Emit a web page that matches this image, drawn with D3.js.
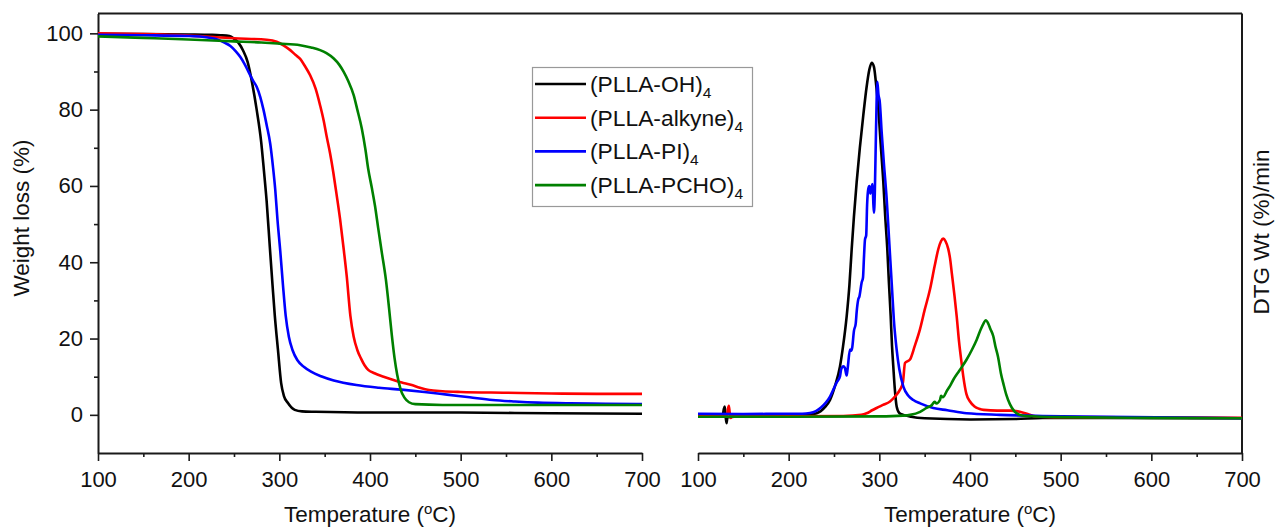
<!DOCTYPE html>
<html><head><meta charset="utf-8">
<script src="https://cdn.jsdelivr.net/npm/d3@7"></script>
<style>
html,body{margin:0;padding:0;background:#fff;}
svg text{font-family:"Liberation Sans",Arial,sans-serif;fill:#111;}
</style></head><body>
<svg id="chart" width="1278" height="529"></svg>
<script>
// ---------- data ----------
const seriesNames = ["(PLLA-OH)", "(PLLA-alkyne)", "(PLLA-PI)", "(PLLA-PCHO)"];
const seriesSub = ["4", "4", "4", "4"];
const seriesColors = ["#000000", "#ff0000", "#0000ff", "#008000"];
const xTicks = [100, 200, 300, 400, 500, 600, 700];
const xMinorTicks = [150, 250, 350, 450, 550, 650];
const yTicks = [0, 20, 40, 60, 80, 100];
const yMinorTicks = [10, 30, 50, 70, 90];
const xTitle = "Temperature (";
const yTitleLeft = "Weight loss (%)";
const yTitleRight = "DTG Wt (%)/min";

// TGA: [temperature °C, weight %]
const tgaOH = [[100,99.9],[150,99.8],[200,99.7],[225,99.6],[235,99.5],[245,99.3],[250,98.6],[255,97.5],[260,95.5],[265,92.5],[270,87],[275,80],[280,71.5],[283,64],[286,56],[289.5,44],[292.5,34],[295,26],[298.5,17],[302,8.3],[305,5],[309.5,3.1],[317,1.3],[325,0.9],[340,0.8],[400,0.6],[500,0.6],[600,0.4],[700,0.3]];
const tgaAlkyne = [[100,100],[150,99.8],[200,99.4],[250,98.7],[286,98.3],[297,97.8],[305,96.8],[312,95.6],[318,94.3],[323,93.3],[328,91.5],[334,89],[340,85.5],[345,81.1],[349,77],[352,73.2],[356,68.5],[359.5,63.6],[363,58],[367,51.3],[371,43.4],[374.3,36.4],[378.4,25.9],[382,20.5],[386,17],[390,14.8],[394,13],[398,11.8],[405,10.9],[415,10],[425,9.2],[435,8.5],[445,7.9],[455,7.1],[465,6.5],[480,6.2],[500,6.0],[550,5.8],[600,5.6],[650,5.5],[700,5.5]];
const tgaPI = [[100,99.6],[150,99.5],[200,99.3],[215,99.1],[230,98.5],[240,97.5],[246,96.7],[252,95.3],[257,93.8],[262,91.8],[266,89.9],[271,87.6],[275,86],[279,83.3],[282.5,80],[286,76],[290,71],[293,65],[295.5,59],[298,51],[301,43],[304,34],[307,26],[310.5,20.5],[314.5,17],[320,14.3],[327,12.6],[335,11.3],[346,10.1],[360,9],[385,7.8],[410,7.1],[435,6.6],[460,6],[485,5.3],[510,4.6],[535,3.9],[560,3.5],[585,3.2],[620,3.0],[660,2.9],[700,2.8]];
const tgaPCHO = [[100,99.2],[150,98.8],[200,98.4],[250,97.9],[280,97.6],[300,97.3],[323,96.9],[335,96.3],[345,95.6],[352,94.8],[360,93.4],[366,91.8],[371,89.9],[376,87.5],[382,83.8],[386,80],[391,75],[395,69.5],[398,64.5],[402,59.5],[405.5,54.8],[409,49],[413,42.6],[417.5,35.5],[421,28],[424,21],[427,15],[430,10.5],[434,6.5],[438,4.5],[443,3.3],[450,2.8],[480,2.6],[700,2.6]];

// DTG: [temperature °C, derivative (arbitrary units, no axis ticks in source)]
const dtgOH = [[100,-0.4],[127,-0.4],[128.5,1.5],[129.5,2.2],[130.5,-0.5],[131.5,-2.2],[132.5,-0.6],[150,-0.4],[200,-0.3],[220,0],[231,0.4],[240,2],[245.6,3.9],[251,7.5],[256.6,12.7],[260,18],[264,25.9],[267,34],[269.5,43.4],[272,52],[275,61],[278.5,70],[282.3,78.5],[286,86],[289,90.5],[291.6,92.3],[294,91.3],[296.5,86.5],[298.9,80.3],[301.5,71],[304.4,61],[306.5,52],[308.8,43.4],[310.5,35],[312.5,25.9],[314,18],[315.4,12.7],[317,7],[319.1,2.2],[322,0.5],[326.5,0],[335,-0.5],[350,-0.9],[400,-1.2],[450,-1.1],[480,-0.8],[550,-0.8],[700,-0.9]];
const dtgAlkyne = [[100,-0.4],[132,-0.4],[133,1.5],[134,2.4],[135,0.5],[136,-0.8],[138,-0.4],[200,-0.4],[260,-0.3],[280,0],[286,0.4],[292,1.2],[297,1.8],[304,2.6],[311.8,3.5],[318,5],[322.8,6.6],[326,8.5],[328.3,13.6],[333.8,14.5],[339,18],[344.8,22.4],[350,27.5],[355.9,32.9],[361,39],[365,43.4],[368,45.5],[370.5,46.2],[373,45.5],[376,43.5],[378,41],[380,37],[383,31],[385.3,25.9],[388,19],[390.5,14],[392.6,10.1],[396,5.5],[400,3.5],[405,2.2],[410,1.6],[415,1.3],[430,1.1],[445,1.1],[455,0.8],[465,0.1],[472,-0.4],[500,-0.6],[700,-0.8]];
const dtgPI = [[100,0.3],[150,0.2],[200,0.3],[215,0.3],[223.5,0.5],[230,1],[236,2],[241,3.2],[245.6,4.8],[250,7],[253,8.5],[256.6,10.1],[258,12],[260.3,12.7],[262,12.3],[263.9,10.3],[265,12],[267.6,17.1],[269,16.8],[270,17.5],[272,22],[274,24],[275,27],[276.8,30.3],[278,31],[280.5,34.7],[282,36],[283,41],[284.2,46],[285.5,47],[286.5,55],[287.8,59.2],[289,60],[290,58],[291.5,59.7],[292.5,60.5],[293.5,55],[294.1,53],[295,58],[296.3,74],[297.8,87.3],[299,84],[300.5,82],[302.6,74],[305,66],[308.1,56.6],[311,45],[313.6,34.7],[316,25],[319.1,17.1],[322,12],[326.5,7.4],[332,5],[337.5,3.9],[345,3],[359.5,1.8],[375,1.2],[396.3,0.4],[433,0],[480,-0.3],[550,-0.5],[700,-0.9]];
const dtgPCHO = [[100,-0.5],[200,-0.5],[300,-0.4],[326,-0.2],[334,0],[345,0.8],[352,1.8],[358,2.6],[361,3.4],[363,3],[366.9,3.9],[368,5],[370,4.6],[375,6.5],[378,7.6],[381.6,9.2],[388,11.5],[396.3,14.5],[402,17],[407.4,19.7],[412,22.5],[415,24],[417.3,24.8],[420,24],[422.5,22.5],[425.7,20.6],[428,18],[431,15.1],[434,11],[437,8],[440,5.3],[444,2.8],[449,0.9],[455,0],[462,-0.3],[500,-0.6],[600,-0.8],[700,-0.9]];

const tgaSeries = [tgaOH, tgaAlkyne, tgaPI, tgaPCHO];
const dtgSeries = [dtgOH, dtgAlkyne, dtgPI, dtgPCHO];

// ---------- layout ----------
const svg = d3.select("#chart");
const plotTop = 13.5, plotBottom = 453;
const xL = d3.scaleLinear().domain([100, 700]).range([98, 642]);
const xR = d3.scaleLinear().domain([100, 700]).range([698, 1242]);
const y = d3.scaleLinear().domain([-10, 105.2]).range([plotBottom, plotTop]);
const yR = d3.scaleLinear().domain([-10, 105.2]).range([plotBottom, plotTop]);

const TICKFONT = 22;
const TITLEFONT = 22.5;
const stroke = "#1a1a1a";

function styleAxis(g) {
  g.selectAll("path.domain").attr("stroke", stroke).attr("stroke-width", 2);
  g.selectAll(".tick line").attr("stroke", stroke).attr("stroke-width", 1.6);
  g.selectAll(".tick text").attr("font-size", TICKFONT).attr("font-family", "Liberation Sans, Arial, sans-serif").attr("fill", "#111");
}

// bottom axes
[xL, xR].forEach(xs => {
  const gMinor = svg.append("g").attr("transform", `translate(0,${plotBottom})`)
    .call(d3.axisBottom(xs).tickValues(xMinorTicks).tickSize(4).tickFormat(""));
  gMinor.select("path.domain").remove();
  styleAxis(gMinor);
  const g = svg.append("g").attr("transform", `translate(0,${plotBottom})`)
    .call(d3.axisBottom(xs).tickValues(xTicks).tickSize(8).tickSizeOuter(0).tickPadding(10));
  styleAxis(g);
});

// left axis
const gyMinor = svg.append("g").attr("transform", `translate(${xL.range()[0]},0)`)
  .call(d3.axisLeft(y).tickValues(yMinorTicks).tickSize(4).tickFormat(""));
gyMinor.select("path.domain").remove();
styleAxis(gyMinor);
const gy = svg.append("g").attr("transform", `translate(${xL.range()[0]},0)`)
  .call(d3.axisLeft(y).tickValues(yTicks).tickSize(8).tickSizeOuter(0).tickPadding(7));
styleAxis(gy);

// top frame line and right frame line
svg.append("line").attr("x1", xL.range()[0]).attr("x2", xR.range()[1]).attr("y1", plotTop).attr("y2", plotTop)
  .attr("stroke", stroke).attr("stroke-width", 2);
svg.append("line").attr("x1", xR.range()[1]).attr("x2", xR.range()[1]).attr("y1", plotTop).attr("y2", plotBottom)
  .attr("stroke", stroke).attr("stroke-width", 2);

// curves
const lineL = d3.line().x(d => xL(d[0])).y(d => y(d[1])).curve(d3.curveMonotoneX);
const lineR = d3.line().x(d => xR(d[0])).y(d => yR(d[1])).curve(d3.curveMonotoneX);
tgaSeries.forEach((s, i) => {
  svg.append("path").attr("d", lineL(s)).attr("fill", "none").attr("stroke", seriesColors[i])
    .attr("stroke-width", 2.6).attr("stroke-linejoin", "round");
});
dtgSeries.forEach((s, i) => {
  svg.append("path").attr("d", lineR(s)).attr("fill", "none").attr("stroke", seriesColors[i])
    .attr("stroke-width", 2.6).attr("stroke-linejoin", "round");
});

// axis titles
function tempTitle(cx) {
  const t = svg.append("text").attr("x", cx).attr("y", 522).attr("text-anchor", "middle").attr("font-size", TITLEFONT);
  t.append("tspan").text(xTitle);
  t.append("tspan").text("o").attr("font-size", 15).attr("dy", -8);
  t.append("tspan").text("C)").attr("dy", 8);
}
tempTitle((xL.range()[0] + xL.range()[1]) / 2);
tempTitle((xR.range()[0] + xR.range()[1]) / 2);

svg.append("text").attr("transform", "translate(29,218) rotate(-90)").attr("text-anchor", "middle")
  .attr("font-size", TITLEFONT).text(yTitleLeft);
svg.append("text").attr("transform", "translate(1269,232) rotate(-90)").attr("text-anchor", "middle")
  .attr("font-size", TITLEFONT).text(yTitleRight);

// legend
const lg = svg.append("g");
lg.append("rect").attr("x", 532.5).attr("y", 67.5).attr("width", 220).attr("height", 139)
  .attr("fill", "#fff").attr("stroke", "#999").attr("stroke-width", 1.2);
seriesNames.forEach((name, i) => {
  const cy = 84 + i * 33.7;
  lg.append("line").attr("x1", 535).attr("x2", 586).attr("y1", cy).attr("y2", cy)
    .attr("stroke", seriesColors[i]).attr("stroke-width", 2.6);
  const t = lg.append("text").attr("x", 590).attr("y", cy + 8).attr("font-size", 22.8);
  t.append("tspan").text(name);
  t.append("tspan").text(seriesSub[i]).attr("font-size", 15.5).attr("dy", 6);
});
</script>
</body></html>
